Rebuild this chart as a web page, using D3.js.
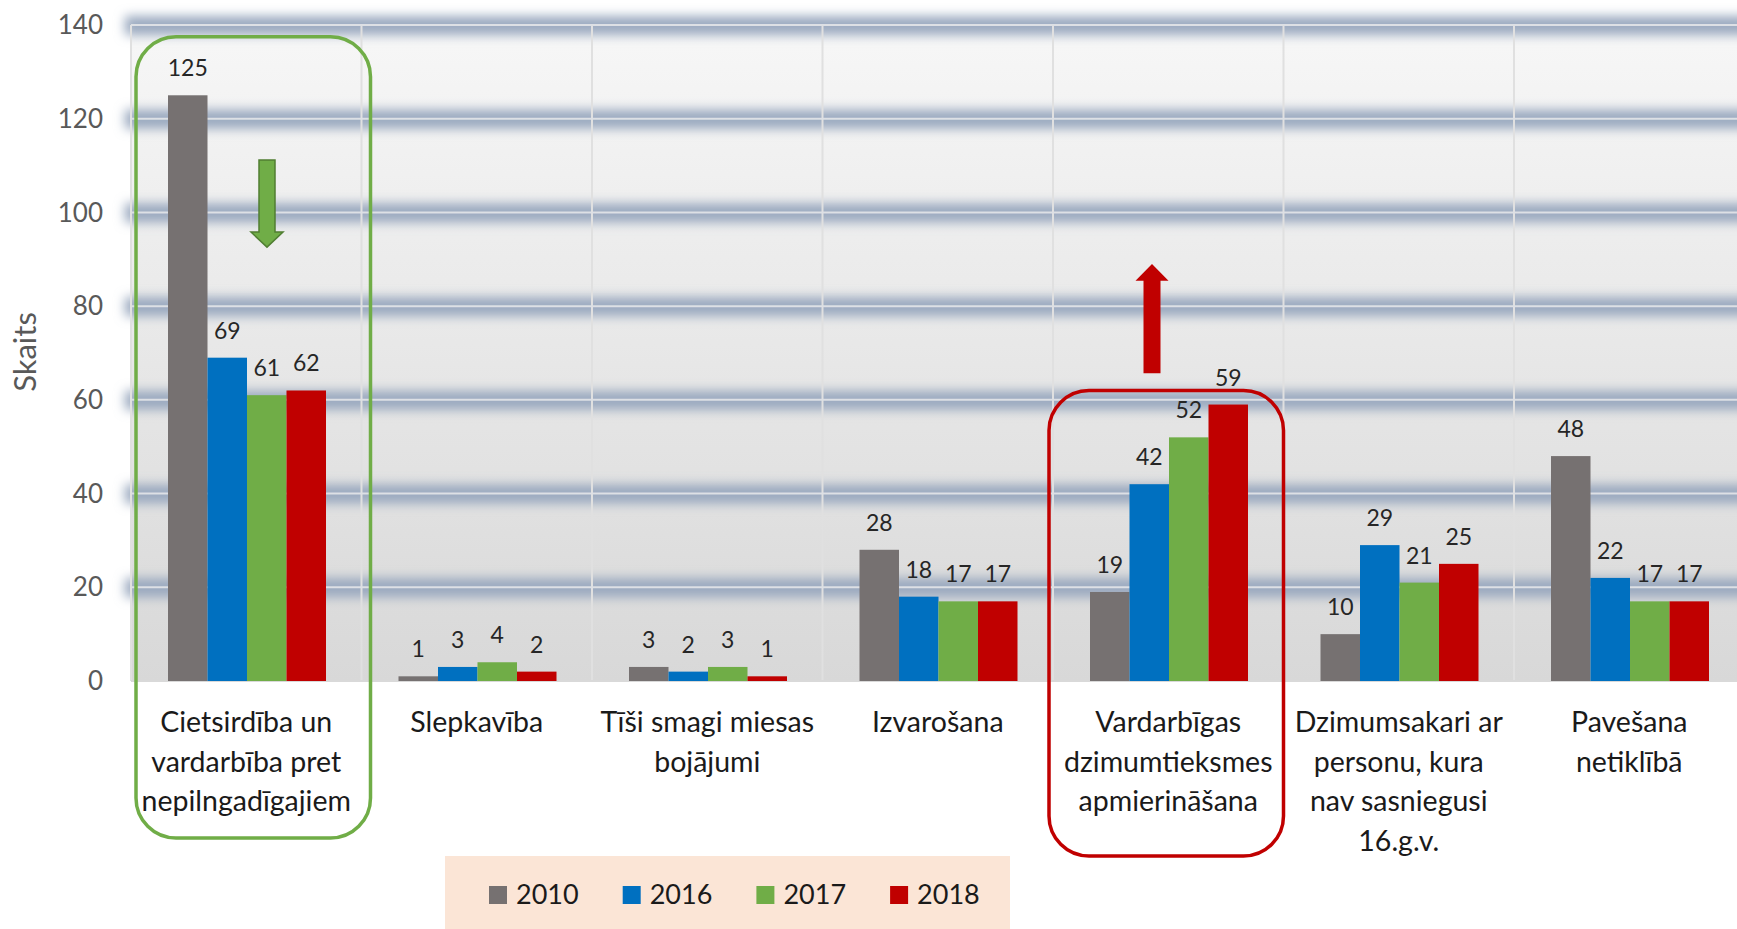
<!DOCTYPE html>
<html>
<head>
<meta charset="utf-8">
<script src="https://cdn.jsdelivr.net/npm/d3@7"></script>
<style>
  html, body { margin: 0; padding: 0; background: #fff; }
  svg { display: block; font-family: Lato, "Open Sans", sans-serif; }
</style>
</head>
<body>
<svg id="chart"></svg>
<script>
const width = 1737;
const height = 929;

// category labels, already broken into lines like the original
const categories = [
  ['Cietsirdība un', 'vardarbība pret', 'nepilngadīgajiem'],
  ['Slepkavība'],
  ['Tīši smagi miesas', 'bojājumi'],
  ['Izvarošana'],
  ['Vardarbīgas', 'dzimumtieksmes', 'apmierināšana'],
  ['Dzimumsakari ar', 'personu, kura', 'nav sasniegusi', '16.g.v.'],
  ['Pavešana', 'netiklībā'],
];
const years = ['2010', '2016', '2017', '2018'];
const values2010 = [125, 1, 3, 28, 19, 10, 48];
const values2016 = [69, 3, 2, 18, 42, 29, 22];
const values2017 = [61, 4, 3, 17, 52, 21, 17];
const values2018 = [62, 2, 1, 17, 59, 25, 17];
const yTicks = [0, 20, 40, 60, 80, 100, 120, 140];
const yTitle = 'Skaits';
const colors = ['#767171', '#0070c0', '#70ad47', '#c00000'];

const series = [values2010, values2016, values2017, values2018];

const plotLeft = 131;
const plotTop = 25;
const plotBottom = 681;
const catWidth = 230.5;
const plotRight = plotLeft + catWidth * categories.length;

const svg = d3.select('#chart')
  .attr('width', width)
  .attr('height', height);

const x = d3.scaleBand()
  .domain(d3.range(categories.length))
  .range([plotLeft, plotRight]);

const x1 = d3.scaleBand()
  .domain(years)
  .range([37, 195]);

const y = d3.scaleLinear()
  .domain([0, 140])
  .range([plotBottom, plotTop]);

// ===========================================================================
//      defs
// ===========================================================================
const defs = svg.append('defs');
const grad = defs.append('linearGradient')
  .attr('id', 'plotBg')
  .attr('x1', 0).attr('y1', 0)
  .attr('x2', 0).attr('y2', 1);
grad.append('stop').attr('offset', '0%').attr('stop-color', '#f7f7f7');
grad.append('stop').attr('offset', '100%').attr('stop-color', '#d8d8d8');

const blur = defs.append('filter')
  .attr('id', 'bandBlur')
  .attr('filterUnits', 'userSpaceOnUse')
  .attr('x', 0).attr('y', 0)
  .attr('width', width + 40).attr('height', height);
blur.append('feGaussianBlur').attr('stdDeviation', 5.5);

// ===========================================================================
//      plot area
// ===========================================================================
svg.append('rect')
  .attr('x', plotLeft)
  .attr('y', plotTop)
  .attr('width', plotRight - plotLeft)
  .attr('height', plotBottom - plotTop)
  .attr('fill', 'url(#plotBg)');

// blurry shadow bands behind the gridlines
svg.append('g')
  .attr('filter', 'url(#bandBlur)')
  .selectAll('rect')
  .data(yTicks.filter(d => d > 0))
  .enter()
  .append('rect')
  .attr('x', plotLeft - 6)
  .attr('width', width + 20)
  .attr('y', d => y(d) - 9)
  .attr('height', 19)
  .attr('fill', '#9aa9bf');

// vertical grid
svg.append('g')
  .selectAll('line')
  .data(d3.range(categories.length + 1))
  .enter()
  .append('line')
  .attr('x1', d => plotLeft + d * x.bandwidth())
  .attr('x2', d => plotLeft + d * x.bandwidth())
  .attr('y1', plotTop)
  .attr('y2', plotBottom)
  .attr('stroke', '#e0e0e0')
  .attr('stroke-width', 2);

// horizontal grid
svg.append('g')
  .selectAll('line')
  .data(yTicks)
  .enter()
  .append('line')
  .attr('x1', plotLeft)
  .attr('x2', plotRight)
  .attr('y1', d => y(d))
  .attr('y2', d => y(d))
  .attr('stroke', d => (d === 0 ? '#d9d9d9' : '#dde0e5'))
  .attr('stroke-width', 2);

// y tick labels
svg.append('g')
  .selectAll('text')
  .data(yTicks)
  .enter()
  .append('text')
  .attr('x', 103)
  .attr('y', d => y(d))
  .attr('dy', '0.35em')
  .attr('text-anchor', 'end')
  .attr('font-size', 26)
  .attr('fill', '#595959')
  .text(d => d);

svg.append('text')
  .attr('transform', 'translate(36,352) rotate(-90)')
  .attr('text-anchor', 'middle')
  .attr('font-size', 31)
  .attr('fill', '#595959')
  .text(yTitle);

// ===========================================================================
//      bars
// ===========================================================================
series.forEach(function (vals, si) {
  const g = svg.append('g');
  g.selectAll('rect')
    .data(vals)
    .enter()
    .append('rect')
    .attr('x', (d, i) => x(i) + x1(years[si]))
    .attr('y', d => y(d))
    .attr('width', x1.bandwidth())
    .attr('height', d => y(0) - y(d))
    .attr('fill', colors[si]);

  g.selectAll('text')
    .data(vals)
    .enter()
    .append('text')
    .attr('x', (d, i) => x(i) + x1(years[si]) + x1.bandwidth() / 2)
    .attr('y', d => y(d) - 19)
    .attr('text-anchor', 'middle')
    .attr('font-size', 23)
    .attr('fill', '#262626')
    .text(d => d);
});

// category labels
const catLabels = svg.append('g')
  .selectAll('text')
  .data(categories)
  .enter()
  .append('text')
  .attr('text-anchor', 'middle')
  .attr('font-size', 28.5)
  .attr('fill', '#1a1a1a');

catLabels.selectAll('tspan')
  .data((d, i) => d.map(line => ({ line, i })))
  .enter()
  .append('tspan')
  .attr('x', d => x(d.i) + x.bandwidth() / 2)
  .attr('y', (d, j) => 732 + j * 39.5)
  .text(d => d.line);

// ===========================================================================
//      highlight boxes and arrows
// ===========================================================================
svg.append('rect')
  .attr('x', x(0) + 5)
  .attr('y', y(137.5))
  .attr('width', x.bandwidth() + 4)
  .attr('height', 838 - y(137.5))
  .attr('rx', 40)
  .attr('fill', 'none')
  .attr('stroke', '#70ad47')
  .attr('stroke-width', 3.5);

svg.append('rect')
  .attr('x', x(4) - 4)
  .attr('y', y(62))
  .attr('width', x.bandwidth() + 4)
  .attr('height', 856 - y(62))
  .attr('rx', 40)
  .attr('fill', 'none')
  .attr('stroke', '#c00000')
  .attr('stroke-width', 3.5);

function arrowPoints(cx, tail, headBase, tip, shaftHalf, headHalf) {
  return [
    [cx - shaftHalf, tail], [cx + shaftHalf, tail],
    [cx + shaftHalf, headBase], [cx + headHalf, headBase],
    [cx, tip],
    [cx - headHalf, headBase], [cx - shaftHalf, headBase],
  ].map(p => p.join(',')).join(' ');
}

svg.append('polygon')
  .attr('points', arrowPoints(x(0) + 136, y(111.2), y(95.8), y(92.6), 8, 16))
  .attr('fill', '#70ad47')
  .attr('stroke', '#507e32')
  .attr('stroke-width', 1.5);

svg.append('polygon')
  .attr('points', arrowPoints(x(4) + 99, y(65.7), y(85.4), y(89), 8.5, 16.5))
  .attr('fill', '#c00000');

// ===========================================================================
//      legend
// ===========================================================================
svg.append('rect')
  .attr('x', 445)
  .attr('y', 856)
  .attr('width', 565)
  .attr('height', 80)
  .attr('fill', '#fbe5d6');

const legend = svg.append('g')
  .selectAll('g')
  .data(years)
  .enter()
  .append('g')
  .attr('transform', (d, i) => `translate(${489 + i * 133.7},0)`);

legend.append('rect')
  .attr('y', 886)
  .attr('width', 18)
  .attr('height', 18)
  .attr('fill', (d, i) => colors[i]);

legend.append('text')
  .attr('x', 27)
  .attr('y', 904)
  .attr('font-size', 27)
  .attr('fill', '#1a1a1a')
  .text(d => d);
</script>
</body>
</html>
